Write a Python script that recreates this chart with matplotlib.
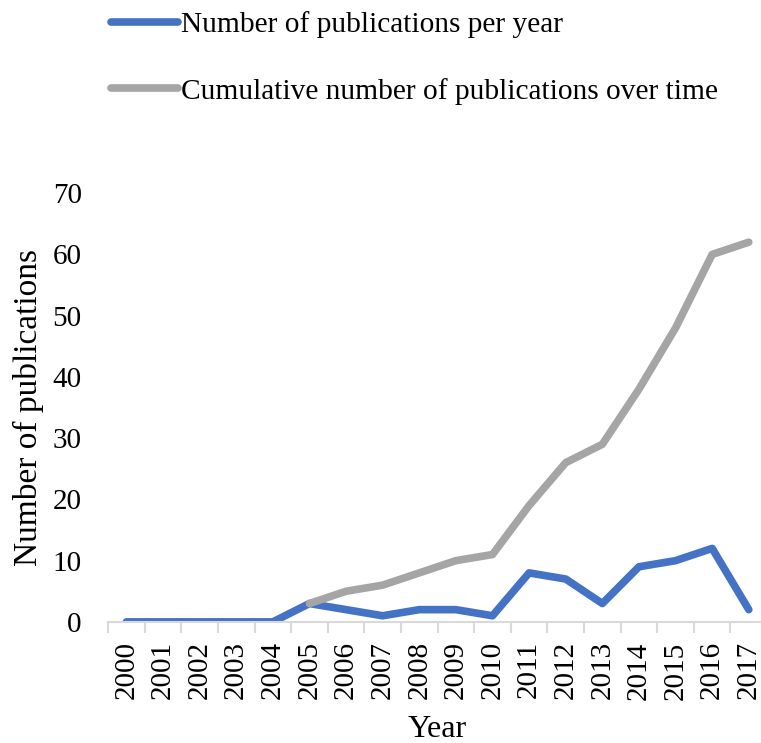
import numpy as np
import matplotlib.pyplot as plt
from matplotlib.ticker import FixedLocator

plt.rcParams['font.family'] = ['Liberation Serif', 'DejaVu Serif']

# ─── Data ────────────────────────────────────────────────
years = [str(y) for y in range(2000, 2018)]
per_year = [0, 0, 0, 0, 0, 3, 2, 1, 2, 2, 1, 8, 7, 3, 9, 10, 12, 2]
cumulative = [np.nan, np.nan, np.nan, np.nan, np.nan,
              3, 5, 6, 8, 10, 11, 19, 26, 29, 38, 48, 60, 62]

blue = '#4472C4'
gray = '#A5A5A5'
axis_gray = '#D9D9D9'

fig = plt.figure(figsize=(7.61, 7.43), dpi=100)
ax = fig.add_axes([0.142, 0.163, 0.866, 0.577])

x = np.arange(len(years))
l1, = ax.plot(x, per_year, color=blue, lw=5.5, solid_capstyle='round',
              solid_joinstyle='round', label='Number of publications per year')
l2, = ax.plot(x, cumulative, color=gray, lw=5.5, solid_capstyle='round',
              solid_joinstyle='round', label='Cumulative number of publications over time')

ax.set_xlim(-0.5, len(years) - 0.5)
ax.set_ylim(0, 70)
ax.set_yticks(range(0, 71, 10))

ax.set_xticks(x)
ax.set_xticklabels(years, rotation=90)
ax.xaxis.set_minor_locator(FixedLocator(np.arange(-0.5, len(years), 1)))
ax.tick_params(axis='x', which='major', length=0, pad=14, labelsize=21)
ax.tick_params(axis='x', which='minor', length=8, width=1.5, color=axis_gray)
ax.tick_params(axis='y', length=0, pad=19, labelsize=21)

for s in ['top', 'right', 'left']:
    ax.spines[s].set_visible(False)
ax.spines['bottom'].set_color(axis_gray)
ax.spines['bottom'].set_linewidth(1.5)

ax.set_xlabel('Year', fontsize=23, labelpad=11)
ax.set_ylabel('Number of publications', fontsize=24, labelpad=6)

fig.legend(handles=[l1, l2], loc='upper left', bbox_to_anchor=(0.126, 1.005),
           frameon=False, fontsize=21.2, handlelength=2.3, handletextpad=0.1,
           labelspacing=1.35, borderaxespad=0.1)

plt.savefig('out.png', dpi=100)
